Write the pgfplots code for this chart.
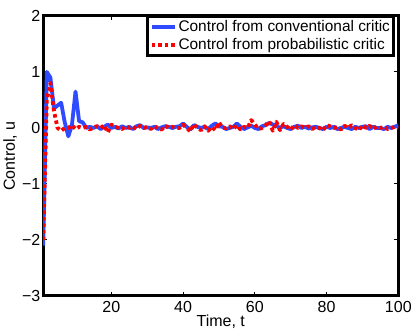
\documentclass[border={0pt 0pt 0pt 7pt}]{standalone}
\usepackage{pgfplots}
\pgfplotsset{compat=1.18}
\usepackage{fontspec}
\setmainfont{Liberation Sans}
\definecolor{ctlBlue}{HTML}{2E4BFF}
\definecolor{ctlRed}{HTML}{FF0000}

\pgfplotstableread{
t conv prob
1 -2.10 -2.00
2 1.00 0.50
3 0.90 0.80
4 0.35 0.30
5 0.40 0.00
6 0.45 -0.05
7 0.10 0.00
8 -0.15 0.00
9 0.05 0.05
10 0.65 -0.02
11 0.12 0.02
12 0.10 0.00
13 0.00 0.02
14 0.02 -0.03
15 0.00 0.01
16 0.03 0.03
17 -0.02 0.00
18 0.02 0.05
19 0.06 -0.08
20 0.00 0.06
21 0.02 0.02
22 -0.01 0.00
23 0.03 -0.02
24 0.00 0.03
25 0.02 0.00
26 -0.02 0.02
27 0.03 -0.02
28 0.05 0.04
29 0.00 0.00
30 0.01 0.02
31 0.00 -0.02
32 0.02 0.03
33 -0.02 0.00
34 0.01 -0.03
35 0.03 0.04
36 0.02 0.00
37 0.00 0.02
38 0.02 0.00
39 0.03 0.00
40 0.08 0.06
41 0.02 0.00
42 -0.03 -0.06
43 0.05 0.07
44 0.02 0.00
45 0.00 -0.04
46 0.02 0.03
47 -0.02 -0.05
48 0.04 0.02
49 0.08 -0.04
50 0.03 0.10
51 0.02 0.00
52 -0.02 0.00
53 0.00 0.03
54 0.02 -0.02
55 0.08 0.05
56 0.02 -0.03
57 -0.02 0.02
58 0.01 0.00
59 0.04 0.14
60 0.00 0.06
61 -0.02 -0.02
62 0.03 0.00
63 0.05 0.05
64 0.09 0.12
65 0.06 -0.05
66 0.04 0.11
67 0.00 -0.04
68 0.03 0.07
69 0.00 0.02
70 -0.02 -0.03
71 0.02 0.05
72 0.04 0.00
73 0.00 0.03
74 0.02 0.00
75 -0.01 0.03
76 0.01 -0.02
77 0.02 0.02
78 0.00 0.00
79 -0.02 -0.04
80 0.02 0.05
81 0.00 0.03
82 0.02 0.00
83 -0.02 0.02
84 0.00 -0.03
85 0.02 0.04
86 0.00 0.00
87 -0.02 0.05
88 0.02 0.00
89 0.00 -0.04
90 0.02 0.05
91 0.03 0.00
92 -0.02 0.04
93 0.02 -0.02
94 0.00 0.03
95 0.00 0.00
96 -0.02 0.02
97 0.02 -0.02
98 0.00 0.00
99 0.02 0.02
100 0.05 0.00
}\ctldata

\begin{document}
\begin{tikzpicture}
\begin{axis}[
  scale only axis,
  width=355pt, height=280pt,
  xmin=1, xmax=100, ymin=-3, ymax=2,
  xtick={20,40,60,80,100},
  ytick={-3,-2,-1,0,1,2},
  yticklabels={−3,−2,−1,0,1,2},
  line width=3pt,
  tick align=inside,
  major tick length=4pt,
  every tick/.style={black, line width=1pt},
  tick label style={font=\fontsize{16}{18}\selectfont},
  label style={font=\fontsize{16}{18}\selectfont},
  xticklabel style={yshift=0pt},
  yticklabel style={xshift=2pt},
  /pgf/number format/assume math mode=true,
  xlabel={Time, t},
  ylabel={Control, u},
  xlabel style={yshift=5pt},
  ylabel style={yshift=-3pt},
  legend style={at={(rel axis cs:0.992,1.003)}, anchor=north east,
    font=\fontsize{15.4}{17}\selectfont, draw=black, line width=3pt,
    inner sep=2pt, row sep=1.5pt, legend cell align=left},
  legend image code/.code={\draw[#1] (0pt,0pt) -- (0.8cm,0pt);},
]
\addplot[ctlBlue, line width=3.8pt, line join=round] table[x=t, y=conv] {\ctldata};
\addlegendentry{Control from conventional critic}
\addplot[ctlRed, line width=3.8pt, line join=round, dash pattern=on 3.5pt off 3pt] table[x=t, y=prob] {\ctldata};
\addlegendentry{Control from probabilistic critic}
\end{axis}
\end{tikzpicture}
\end{document}
